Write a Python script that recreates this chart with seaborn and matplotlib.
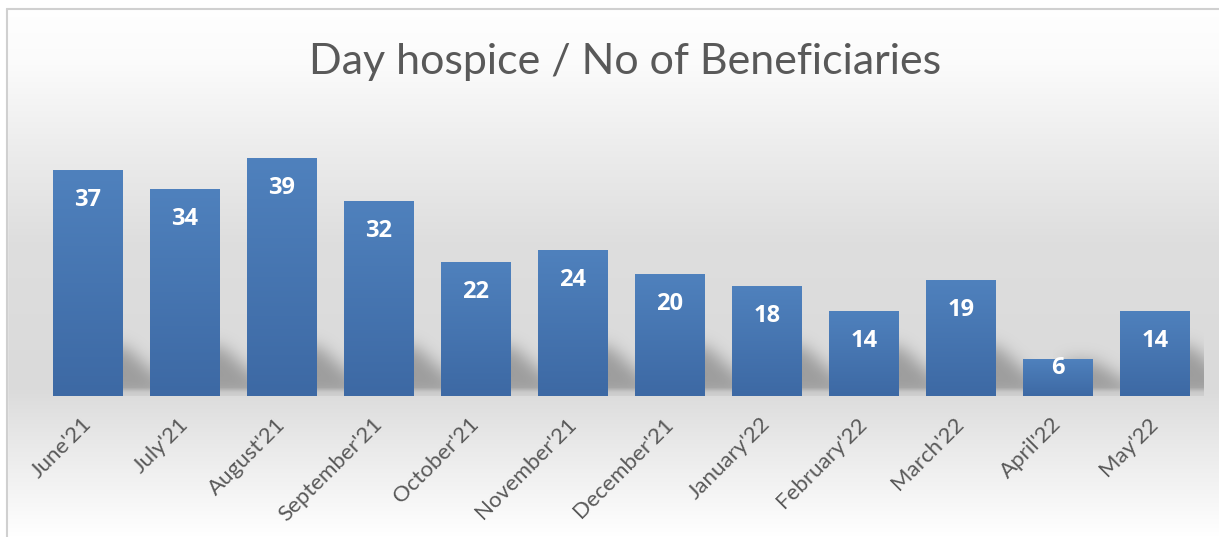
import numpy as np
import pandas as pd
import seaborn as sns
import matplotlib.pyplot as plt
from matplotlib.colors import LinearSegmentedColormap
from matplotlib.patches import Rectangle

# dane z wykresu
months = ["June'21", "July'21", "August'21", "September'21", "October'21",
          "November'21", "December'21", "January'22", "February'22",
          "March'22", "April'22", "May'22"]
beneficiaries = [37, 34, 39, 32, 22, 24, 20, 18, 14, 19, 6, 14]
title = "Day hospice / No of Beneficiaries"

df = pd.DataFrame({"month": months, "count": beneficiaries})

sns.set_theme(style="white")
plt.rcParams["font.family"] = ["Lato", "DejaVu Sans"]

W, H = 1219, 537
fig = plt.figure(figsize=(W / 100, H / 100), dpi=100)

# tlo z gradientem (styl Excela)
bg = fig.add_axes([0, 0, 1, 1], zorder=-10)
bg.set_axis_off()
stops = [(0.0, "#ffffff"), (0.12, "#fbfbfb"), (0.28, "#ececec"),
         (0.45, "#dedede"), (0.72, "#dadada"), (0.82, "#e8e8e8"), (1.0, "#ffffff")]
bg_cmap = LinearSegmentedColormap.from_list("bg", stops)
grad = np.linspace(0, 1, 256).reshape(-1, 1)
bg.imshow(grad, cmap=bg_cmap, aspect="auto", extent=[0, 1, 0, 1], origin="upper")
bg.set_xlim(0, 1)
bg.set_ylim(0, 1)
# biale marginesy poza ramka + ramka
bg.add_patch(Rectangle((0, 0), 7 / W, 1, color="white", zorder=2))
bg.add_patch(Rectangle((0, 1 - 9 / H), 1, 9 / H, color="white", zorder=2))
bg.plot([7 / W, 7 / W], [0, 1 - 9 / H], color="#d0d0d0", lw=1.5, zorder=3)
bg.plot([7 / W, 1], [1 - 9 / H, 1 - 9 / H], color="#d0d0d0", lw=1.5, zorder=3)

ax = fig.add_axes([39.5 / W, 141 / H, 1164 / W, 274.5 / H])
ax.patch.set_alpha(0)

sns.barplot(data=df, x="month", y="count", color="#4a7ab5", width=0.72,
            saturation=1, ax=ax, zorder=3)
YMAX = 45
ax.set_ylim(0, YMAX)
ax.set_xlim(-0.5, len(months) - 0.5)

units_per_px = YMAX / 274.5
xu_per_px = 1 / 97.0


def blur(a, s):
    k = np.exp(-0.5 * (np.arange(-3 * s, 3 * s + 1) / s) ** 2)
    k /= k.sum()
    a = np.apply_along_axis(lambda r: np.convolve(r, k, mode="same"), 1, a)
    return np.apply_along_axis(lambda c: np.convolve(c, k, mode="same"), 0, a)


# gradient na slupkach + cien
bar_cmap = LinearSegmentedColormap.from_list("bar", ["#3d69a4", "#4f81bd"])
for p in ax.patches:
    x0, y0 = p.get_x(), p.get_y()
    w, h = p.get_width(), p.get_height()
    p.set_facecolor("none")
    p.set_edgecolor("none")
    im = ax.imshow(np.linspace(0, 1, 100).reshape(-1, 1), cmap=bar_cmap,
                   aspect="auto", origin="lower",
                   extent=[x0, x0 + w, y0, y0 + h], zorder=3)
    im.set_clip_path(p)

    # cien za slupkiem (rozmyty rownoleglobok)
    h_px = h / units_per_px
    hs = min(50, h_px * 0.95)
    left_px, right_px, top_px = -40, 80, 80
    U, V = np.meshgrid(np.arange(left_px, right_px), np.arange(0, top_px))
    mask = ((V < hs * (1 - np.clip(U, 0, None) / 55.0)) & (U > -30)).astype(float)
    a = blur(mask, 8) * np.clip(V / 8.0, 0.4, 1)
    rgba = np.zeros(U.shape + (4,))
    rgba[..., :3] = 0.42
    rgba[..., 3] = 0.55 * a
    ax.imshow(rgba, origin="lower", aspect="auto", interpolation="bilinear",
              extent=[x0 + w + left_px * xu_per_px, x0 + w + right_px * xu_per_px,
                      0, top_px * units_per_px], zorder=2)

for p, val in zip(ax.patches, beneficiaries):
    h_px = p.get_height() / units_per_px
    yc = max(h_px - 30, 28) * units_per_px
    ax.text(p.get_x() + p.get_width() / 2, yc, str(val), ha="center",
            va="center", color="white", fontsize=17, fontweight="bold",
            family=["Open Sans", "DejaVu Sans"], zorder=5)

ax.set_xlim(-0.5, len(months) - 0.5)
ax.set_ylim(0, YMAX)
ax.set_xlabel("")
ax.set_ylabel("")
ax.set_yticks([])
sns.despine(ax=ax, left=True, top=True, right=True, bottom=True)
ax.tick_params(axis="x", length=0, pad=18)
plt.setp(ax.get_xticklabels(), rotation=45, ha="right", va="center",
         rotation_mode="anchor", color="#595959", fontsize=16)

fig.text(625 / W, 1 - 62 / H, title, ha="center", va="center",
         fontsize=31, color="#595959")

fig.savefig("out.png", dpi=100)
